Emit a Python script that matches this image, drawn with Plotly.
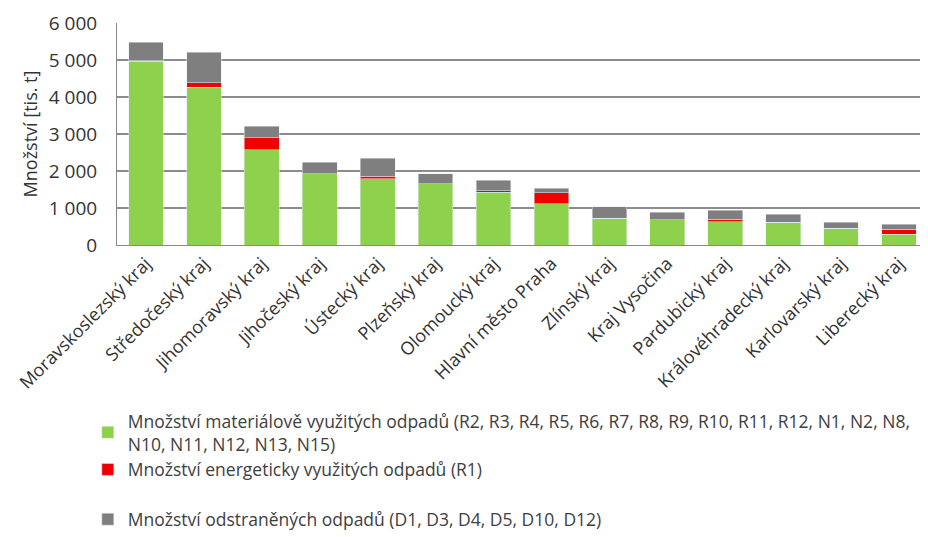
"""Množství využitých a odstraněných odpadů podle krajů."""

import plotly.graph_objects as go

kraje = [
    "Moravskoslezský kraj", "Středočeský kraj", "Jihomoravský kraj",
    "Jihočeský kraj", "Ústecký kraj", "Plzeňský kraj", "Olomoucký kraj",
    "Hlavní město Praha", "Zlínský kraj", "Kraj Vysočina", "Pardubický kraj",
    "Královéhradecký kraj", "Karlovarský kraj", "Liberecký kraj",
]
materialove = [4970, 4260, 2570, 1920, 1790, 1650, 1420, 1110, 720, 680, 630, 615, 450, 290]
energeticky = [10, 120, 330, 10, 70, 10, 50, 300, 0, 0, 60, 0, 0, 130]
odstranene = [500, 830, 316, 305, 483, 260, 280, 122, 315, 203, 247, 214, 163, 139]

FONT = "Open Sans"

fig = go.Figure()
fig.add_trace(go.Bar(
    x=kraje, y=materialove,
    name="Množství materiálově využitých odpadů (R2, R3, R4, R5, R6, R7, R8, R9, R10, R11, R12, N1, N2, N8,<br>N10, N11, N12, N13, N15)",
    marker_color="#8DD14C", legendgroup="a",
))
fig.add_trace(go.Bar(
    x=kraje, y=energeticky,
    name="Množství energeticky využitých odpadů (R1)",
    marker_color="#F00000", legendgroup="a",
))
fig.add_trace(go.Bar(
    x=kraje, y=odstranene,
    name="Množství odstraněných odpadů (D1, D3, D4, D5, D10, D12)",
    marker_color="#7F7F7F", legendgroup="b",
))

# the page body adds an 8 px offset, so margins are shifted by that much
fig.update_layout(
    width=928, height=537,
    barmode="stack",
    bargap=0.4,
    separators=", ",
    plot_bgcolor="white",
    paper_bgcolor="white",
    margin=dict(l=109, r=8, t=15, b=300),
    font=dict(family=FONT, size=17, color="#333333"),
    legend=dict(
        x=-0.036, y=-0.712, xanchor="left", yanchor="top",
        traceorder="grouped", tracegroupgap=24,
        font=dict(size=17.5, color="#404040"),
        itemwidth=30,
    ),
    showlegend=True,
)
fig.update_xaxes(
    tickangle=-45,
    automargin=False,
    showline=True, linecolor="#888888", linewidth=1,
    tickfont=dict(size=18, color="#333333"),
)
fig.update_yaxes(
    range=[0, 6000],
    dtick=1000,
    tickformat=",d",
    automargin=False,
    showgrid=True, gridcolor="#8C8C8C", gridwidth=1.5,
    showline=True, linecolor="#888888", linewidth=1,
    zeroline=False,
    ticklabelstandoff=15,
    tickfont=dict(size=19, color="#333333"),
    title=dict(text="Množství [tis. t]", font=dict(size=18), standoff=6),
)

fig.write_html("out.html")
